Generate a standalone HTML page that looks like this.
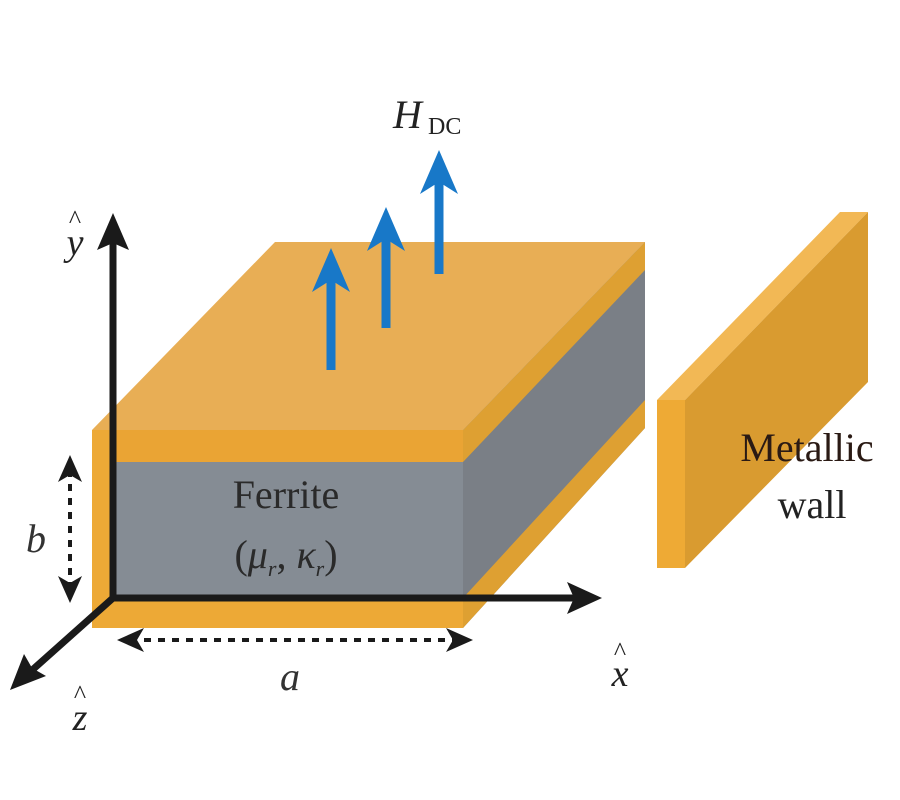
<!DOCTYPE html>
<html><head><meta charset="utf-8"><style>
html,body{margin:0;padding:0;background:#fff;}
svg{display:block;}
text{font-family:"Liberation Serif",serif;}
</style></head><body>
<svg width="900" height="800" viewBox="0 0 900 800" xmlns="http://www.w3.org/2000/svg">
<!-- slab top face -->
<polygon points="92,430 463,430 645,242 275,242" fill="#e8ae55"/>
<!-- right side face -->
<polygon points="463,430 645,242 645,428 463,628" fill="#7a7f86"/>
<polygon points="463,430 645,242 645,270 463,462" fill="#dea032"/>
<polygon points="463,598 645,400 645,428 463,628" fill="#dea032"/>
<!-- front face -->
<rect x="92" y="430" width="371" height="32" fill="#eaa434"/>
<rect x="92" y="462" width="371" height="133" fill="#858c94"/>
<rect x="92" y="595" width="371" height="33" fill="#eda936"/>
<rect x="92" y="430" width="21" height="198" fill="#eda936"/>
<!-- metallic wall -->
<polygon points="657,400 685,400 868,212 840,212" fill="#f2b855"/>
<polygon points="685,400 868,212 868,382 685,568" fill="#d99b30"/>
<rect x="657" y="400" width="28" height="168" fill="#eeaa35"/>
<!-- blue arrows -->
<g stroke="#1878c8" stroke-width="9" fill="#1878c8">
<line x1="331" y1="370" x2="331" y2="262"/>
<line x1="386" y1="328" x2="386" y2="222"/>
<line x1="439" y1="274" x2="439" y2="165"/>
</g>
<g fill="#1878c8">
<polygon points="331,248 312,292 331,280 350,292"/>
<polygon points="386,207 367,251 386,239 405,251"/>
<polygon points="439,150 420,194 439,182 458,194"/>
</g>
<!-- axes -->
<g stroke="#1a1a1a" stroke-width="7" fill="none">
<line x1="113" y1="598" x2="113" y2="240"/>
<line x1="110" y1="598" x2="580" y2="598"/>
<line x1="113" y1="598" x2="30" y2="672"/>
</g>
<g fill="#1a1a1a">
<polygon points="113,213 97,250 113,243 129,250"/>
<polygon points="602,598 567,582 574,598 567,614"/>
<polygon points="10,690 24,654 32,668 46,676"/>
</g>
<!-- dimension arrows -->
<g stroke="#1a1a1a" stroke-width="4" stroke-dasharray="7,7" fill="none">
<line x1="70" y1="470" x2="70" y2="590"/>
<line x1="130" y1="640" x2="460" y2="640"/>
</g>
<g fill="#1a1a1a">
<polygon points="70,455 58,482 70,475 82,482"/>
<polygon points="70,603 58,576 70,583 82,576"/>
<polygon points="117,640 144,628 137,640 144,652"/>
<polygon points="473,640 446,628 453,640 446,652"/>
</g>
<!-- labels -->
<text x="393" y="128" font-size="40" font-style="italic" fill="#222">H</text>
<text x="428" y="134" font-size="24" fill="#222">DC</text>
<text x="75" y="255" font-size="38" font-style="italic" fill="#222" text-anchor="middle">y</text>
<text x="75" y="228" font-size="26" fill="#222" text-anchor="middle">^</text>
<text x="620" y="686" font-size="38" font-style="italic" fill="#222" text-anchor="middle">x</text>
<text x="620" y="660" font-size="26" fill="#222" text-anchor="middle">^</text>
<text x="80" y="730" font-size="38" font-style="italic" fill="#222" text-anchor="middle">z</text>
<text x="80" y="703" font-size="26" fill="#222" text-anchor="middle">^</text>
<text x="36" y="552" font-size="40" font-style="italic" fill="#333" text-anchor="middle">b</text>
<text x="290" y="690" font-size="40" font-style="italic" fill="#333" text-anchor="middle">a</text>
<text x="286" y="508" font-size="40" fill="#2a2a2a" text-anchor="middle">Ferrite</text>
<text x="286" y="568" font-size="40" fill="#2a2a2a" text-anchor="middle">(<tspan font-style="italic">μ</tspan><tspan font-size="22" font-style="italic" dy="8">r</tspan><tspan dy="-8">, </tspan><tspan font-style="italic">κ</tspan><tspan font-size="22" font-style="italic" dy="8">r</tspan><tspan dy="-8">)</tspan></text>
<text x="807" y="461" font-size="40" fill="#2a1a14" text-anchor="middle">Metallic</text>
<text x="812" y="518" font-size="40" fill="#222" text-anchor="middle">wall</text>
</svg>
</body></html>
